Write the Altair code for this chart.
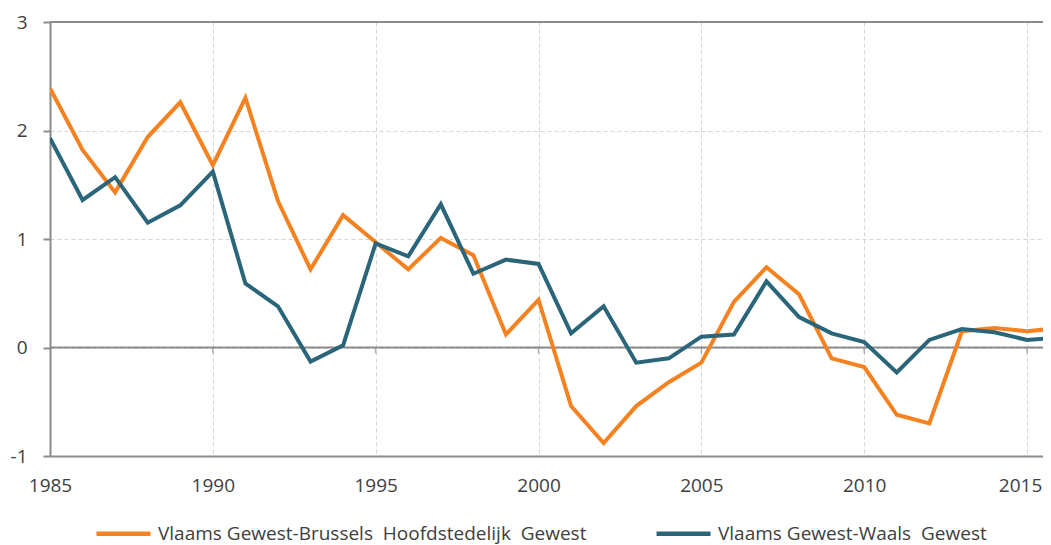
import altair as alt
import pandas as pd

years = list(range(1985, 2017))
brussels = [2.39, 1.82, 1.43, 1.94, 2.26, 1.68, 2.30, 1.35, 0.72, 1.22,
            0.97, 0.72, 1.01, 0.85, 0.12, 0.44, -0.54, -0.88, -0.54, -0.32,
            -0.14, 0.42, 0.74, 0.49, -0.10, -0.18, -0.62, -0.70, 0.15, 0.18,
            0.15, 0.18]
waals = [1.93, 1.36, 1.57, 1.15, 1.31, 1.62, 0.59, 0.38, -0.13, 0.02,
         0.96, 0.84, 1.32, 0.68, 0.81, 0.77, 0.13, 0.38, -0.14, -0.10,
         0.10, 0.12, 0.61, 0.28, 0.13, 0.05, -0.23, 0.07, 0.17, 0.14,
         0.07, 0.09]
series_names = ["Vlaams Gewest-Brussels\u00a0 Hoofdstedelijk\u00a0 Gewest",
                "Vlaams Gewest-Waals\u00a0 Gewest"]
series_colors = ["#F58220", "#2A657A"]
x_ticks = [1985, 1990, 1995, 2000, 2005, 2010, 2015]
y_ticks = [-1, 0, 1, 2, 3]
solid_lines = [3, 0]

df = pd.DataFrame({"year": years, series_names[0]: brussels, series_names[1]: waals})
df = df.melt("year", var_name="series", value_name="value")

FONT = "Open Sans"
TXT = "#404040"
AX = "#8c8c8c"

xscale = alt.Scale(domain=[1985, 2015.49], nice=False, zero=False)
yscale = alt.Scale(domain=[-1, 3], nice=False, zero=False)

xaxis = alt.Axis(values=x_ticks, format="d", title=None, grid=True,
                 gridDash=[4, 3], gridColor="#d4d4d4", gridWidth=1,
                 ticks=False, domain=True, domainColor=AX, domainWidth=2,
                 labelFont=FONT, labelFontSize=19, labelColor=TXT,
                 labelPadding=20, labelFlush=False, labelOverlap=False,
                 labelOffset=alt.ExprRef(expr="datum.value == 2015 ? -7 : 0"))
yaxis = alt.Axis(values=y_ticks, labelExpr="'' + datum.value", title=None,
                 grid=True, gridDash=[4, 3], gridColor="#d4d4d4", gridWidth=1,
                 ticks=True, tickSize=7, tickColor=AX, tickWidth=2,
                 domain=True, domainColor=AX, domainWidth=2,
                 labelFont=FONT, labelFontSize=19, labelColor=TXT,
                 labelPadding=16, labelFlush=False, labelOverlap=False)

rules = alt.Chart(pd.DataFrame({"value": solid_lines})).mark_rule(
    color=AX, strokeWidth=2
).encode(y=alt.Y("value:Q", scale=yscale, axis=yaxis))

zero_ticks = alt.Chart(pd.DataFrame({"year": x_ticks[1:]})).mark_tick(
    orient="vertical", size=6, thickness=1.5, color=AX, yOffset=3
).encode(x=alt.X("year:Q", scale=xscale, axis=xaxis), y=alt.datum(0))

lines = alt.Chart(df).mark_line(strokeWidth=4, clip=True).encode(
    x=alt.X("year:Q", scale=xscale, axis=xaxis),
    y=alt.Y("value:Q", scale=yscale, axis=yaxis),
    color=alt.Color("series:N",
                    scale=alt.Scale(domain=series_names, range=series_colors),
                    sort=series_names,
                    legend=alt.Legend(orient="none", legendX=44, legendY=482,
                                      direction="horizontal", title=None,
                                      symbolType="stroke", symbolSize=2916,
                                      symbolStrokeWidth=4.5,
                                      labelFont=FONT, labelFontSize=19,
                                      labelColor=TXT, labelOffset=5,
                                      columnPadding=60, labelLimit=0)),
)

chart = alt.layer(rules, zero_ticks, lines).properties(
    width=993, height=434,
    autosize=alt.AutoSizeParams(type="none"),
    padding={"left": 42, "top": 14, "right": 0, "bottom": 95},
).configure_view(stroke=None).configure(background="white")

chart.save("out.html", embed_options={"renderer": "svg", "actions": False})
